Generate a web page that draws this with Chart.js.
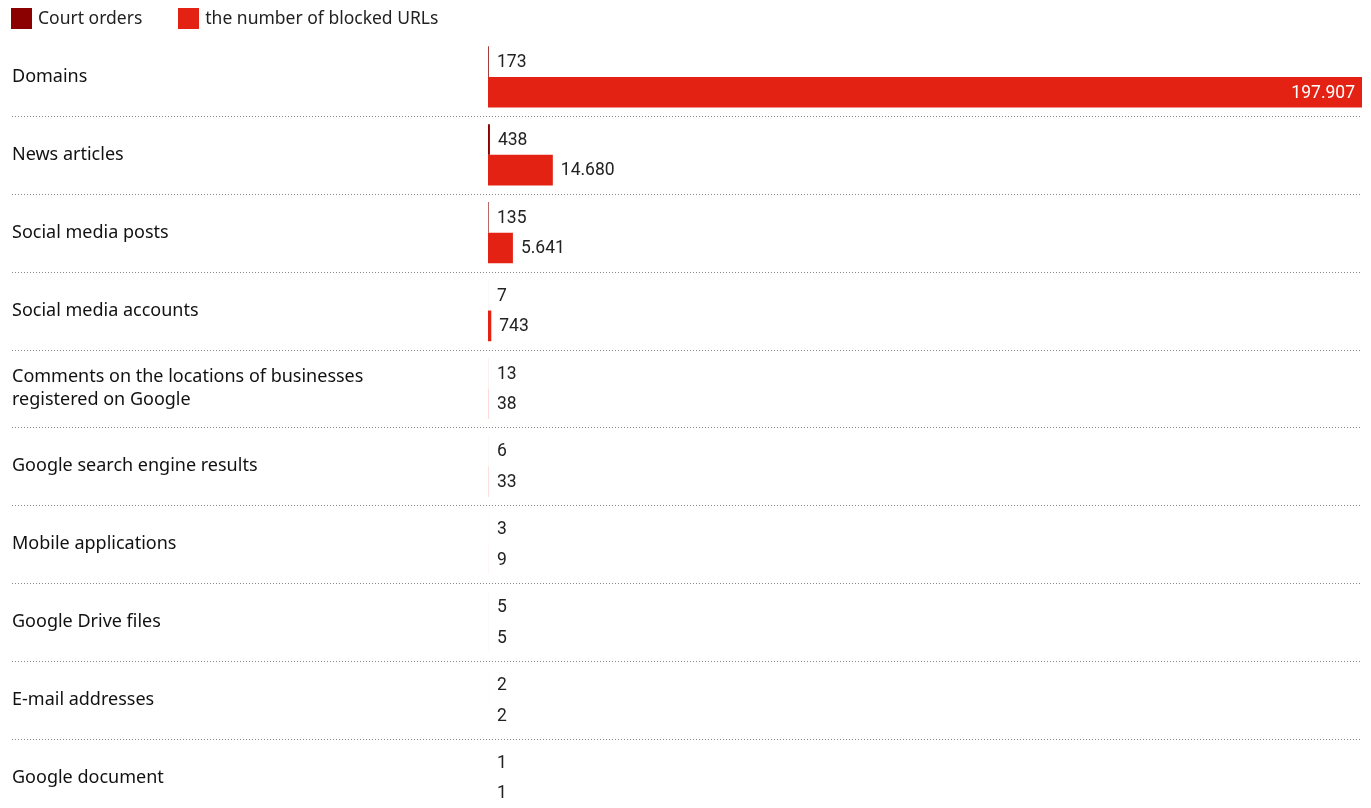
<!DOCTYPE html>
<html>
<head>
<meta charset="utf-8">
<script src="https://cdn.jsdelivr.net/npm/chart.js@4"></script>
<style>
  body { margin: 0; background: #fff; overflow: hidden; font-family: 'Noto Sans', sans-serif; }
  #wrap { position: relative; width: 1371px; height: 828px; }
  #legend { position: absolute; left: 11px; top: 3px; font-size: 17.5px; color: #222; }
  #legend span.item { display: inline-block; margin-right: 36px; vertical-align: middle; }
  #legend i { display: inline-block; width: 21px; height: 21px; vertical-align: -5px; margin-right: 6px; }
</style>
</head>
<body>
<div id="wrap">
  <div id="legend"></div>
  <canvas id="grafica"></canvas>
</div>
<script>
var categories = ['Domains', 'News articles', 'Social media posts', 'Social media accounts',
    ['Comments on the locations of businesses', 'registered on Google'],
    'Google search engine results', 'Mobile applications', 'Google Drive files',
    'E-mail addresses', 'Google document'];
var seriesNames = ['Court orders', 'the number of blocked URLs'];
var seriesColors = ['#8b0000', '#e32214'];
var courtOrders = [173, 438, 135, 7, 13, 6, 3, 5, 2, 1];
var blockedUrls = [197907, 14680, 5641, 743, 38, 33, 9, 5, 2, 1];

function fmt(v) {
    return String(v).replace(/\B(?=(\d{3})+(?!\d))/g, '.');
}

document.getElementById('legend').innerHTML = seriesNames.map(function(n, i) {
    return '<span class="item"><i style="background:' + seriesColors[i] + '"></i>' + n + '</span>';
}).join('');

var valueLabels = {
    id: 'valueLabels',
    afterDatasetsDraw: function(chart) {
        var ctx = chart.ctx;
        ctx.save();
        ctx.font = '17.5px Roboto';
        ctx.textBaseline = 'middle';
        chart.data.datasets.forEach(function(ds, di) {
            chart.getDatasetMeta(di).data.forEach(function(bar, i) {
                var v = ds.data[i];
                var left = chart.chartArea.left;
                if (bar.x - left > 200) {
                    ctx.fillStyle = '#fff';
                    ctx.textAlign = 'right';
                    ctx.fillText(fmt(v), bar.x - 7, bar.y + 1);
                } else {
                    ctx.fillStyle = '#222';
                    ctx.textAlign = 'left';
                    ctx.fillText(fmt(v), Math.max(bar.x, left + 1) + 8, bar.y + 1);
                }
            });
        });
        ctx.restore();
    }
};

// dotted separators across the whole row, labels included
var separators = {
    id: 'separators',
    beforeDatasetsDraw: function(chart) {
        var ctx = chart.ctx, y = chart.scales.y;
        var step = y.getPixelForValue(1) - y.getPixelForValue(0);
        ctx.save();
        ctx.strokeStyle = '#888';
        ctx.lineWidth = 1;
        ctx.setLineDash([1, 2]);
        for (var i = 1; i < categories.length; i++) {
            var py = Math.round(y.getPixelForValue(i) - step / 2) + 0.5;
            ctx.beginPath();
            ctx.moveTo(12, py);
            ctx.lineTo(chart.chartArea.right, py);
            ctx.stroke();
        }
        ctx.restore();
    }
};

var ctx1 = document.getElementById('grafica').getContext('2d');
var chart = new Chart(ctx1, {
    type: 'bar',
    data: {
        labels: categories,
        datasets: [{
            label: seriesNames[0],
            backgroundColor: seriesColors[0],
            data: courtOrders
        }, {
            label: seriesNames[1],
            backgroundColor: seriesColors[1],
            data: blockedUrls
        }]
    },
    options: {
        indexAxis: 'y',
        responsive: true,
        maintainAspectRatio: false,
        animation: false,
        layout: { padding: { left: 12, right: 9, top: 38, bottom: 0 } },
        datasets: { bar: { categoryPercentage: 0.785, barPercentage: 1 } },
        plugins: {
            tooltip: { enabled: false },
            legend: { display: false }
        },
        scales: {
            x: { display: false, min: 0, max: 197907 },
            y: {
                afterFit: function(axis) { axis.width = 476; },
                border: { display: false },
                grid: { display: false },
                ticks: {
                    crossAlign: 'far',
                    padding: 0,
                    color: '#111',
                    font: { family: 'Noto Sans', size: 18, lineHeight: 1.25 }
                }
            }
        }
    },
    plugins: [separators, valueLabels]
});
</script>
</body>
</html>
